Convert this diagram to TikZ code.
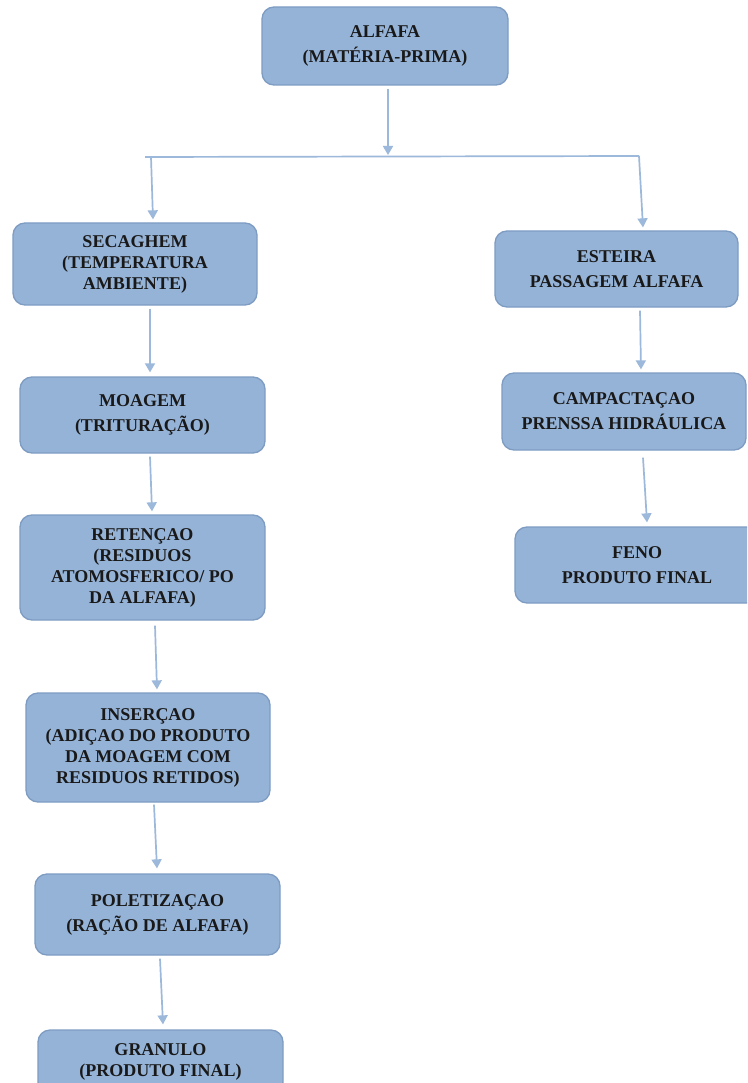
\documentclass[tikz,border=0pt]{standalone}
\usepackage{fontspec}
\setmainfont{Liberation Serif}
\usetikzlibrary{arrows.meta}
\definecolor{boxfill}{HTML}{95B3D7}
\definecolor{boxline}{HTML}{7E9CC2}
\definecolor{arrcol}{HTML}{9CB8DA}
\begin{document}
\begin{tikzpicture}[x=1pt,y=-1pt,
 box/.style={draw=boxline, line width=1.3pt, fill=boxfill, rounded corners=12pt, align=center,
   font=\bfseries\fontsize{18}{25}\selectfont, text=black!90, inner sep=0pt},
 boxtight/.style={box, font=\bfseries\fontsize{18}{21}\selectfont},
 arr/.style={draw=arrcol, line width=1.7pt, -{Triangle[width=10pt,length=9pt]}},
 bus/.style={draw=arrcol, line width=1.7pt}]
\clip (0,0) rectangle (747,1083);
\fill[white] (0,0) rectangle (747,1083);
% boxes
\node[box, minimum width=246pt, minimum height=78pt] (alf) at (385,46) {ALFAFA\\(MATÉRIA-PRIMA)};
\node[boxtight, minimum width=244pt, minimum height=82pt] (sec) at (135,264) {SECAGHEM\\(TEMPERATURA\\AMBIENTE)};
\node[box, minimum width=243pt, minimum height=76pt] (est) at (616.5,269) {ESTEIRA\\PASSAGEM ALFAFA};
\node[box, minimum width=245pt, minimum height=76pt] (moa) at (142.5,415) {MOAGEM\\(TRITURAÇÃO)};
\node[box, minimum width=244pt, minimum height=77pt] (cam) at (624,411.5) {CAMPACTAÇAO\\PRENSSA HIDRÁULICA};
\node[box, minimum width=244pt, minimum height=76pt] (fen) at (637,565) {FENO\\PRODUTO FINAL};
\node[boxtight, minimum width=245pt, minimum height=105pt] (ret) at (142.5,567.5) {RETENÇAO\\(RESIDUOS\\ATOMOSFERICO/ PO\\DA ALFAFA)};
\node[boxtight, minimum width=244pt, minimum height=109pt] (ins) at (148,747.5) {INSERÇAO\\(ADIÇAO DO PRODUTO\\DA MOAGEM COM\\RESIDUOS RETIDOS)};
\node[box, minimum width=245pt, minimum height=81pt] (pol) at (157.5,914.5) {POLETIZAÇAO\\(RAÇÃO DE ALFAFA)};
\node[boxtight, minimum width=245pt, minimum height=64pt] (gra) at (160.5,1062) {GRANULO\\(PRODUTO FINAL)};
% bus
\coordinate (bl) at (145,157);
\coordinate (br) at (639,156);
\coordinate (bm) at (388,155);
\coordinate (bld) at (151,157);
\draw[bus] (bl) -- (br);
\draw[arr] ([shift={(3,3)}]alf.south) -- (bm);
\draw[arr] (bld) -- ([shift={(18,-3)}]sec.north);
\draw[arr] (br) -- ([shift={(26.5,-3)}]est.north);
% left chain
\draw[arr] ([shift={(15,3)}]sec.south) -- ([shift={(7.5,-4)}]moa.north);
\draw[arr] ([shift={(7.5,3)}]moa.south) -- ([shift={(9.5,-3)}]ret.north);
\draw[arr] ([shift={(12.5,5)}]ret.south) -- ([shift={(9,-3)}]ins.north);
\draw[arr] ([shift={(6,2)}]ins.south) -- ([shift={(-0.5,-5)}]pol.north);
\draw[arr] ([shift={(2.5,3)}]pol.south) -- ([shift={(2.5,-5)}]gra.north);
% right chain
\draw[arr] ([shift={(23.5,3)}]est.south) -- ([shift={(17,-3)}]cam.north);
\draw[arr] ([shift={(19,7)}]cam.south) -- ([shift={(10,-4)}]fen.north);
\end{tikzpicture}
\end{document}
